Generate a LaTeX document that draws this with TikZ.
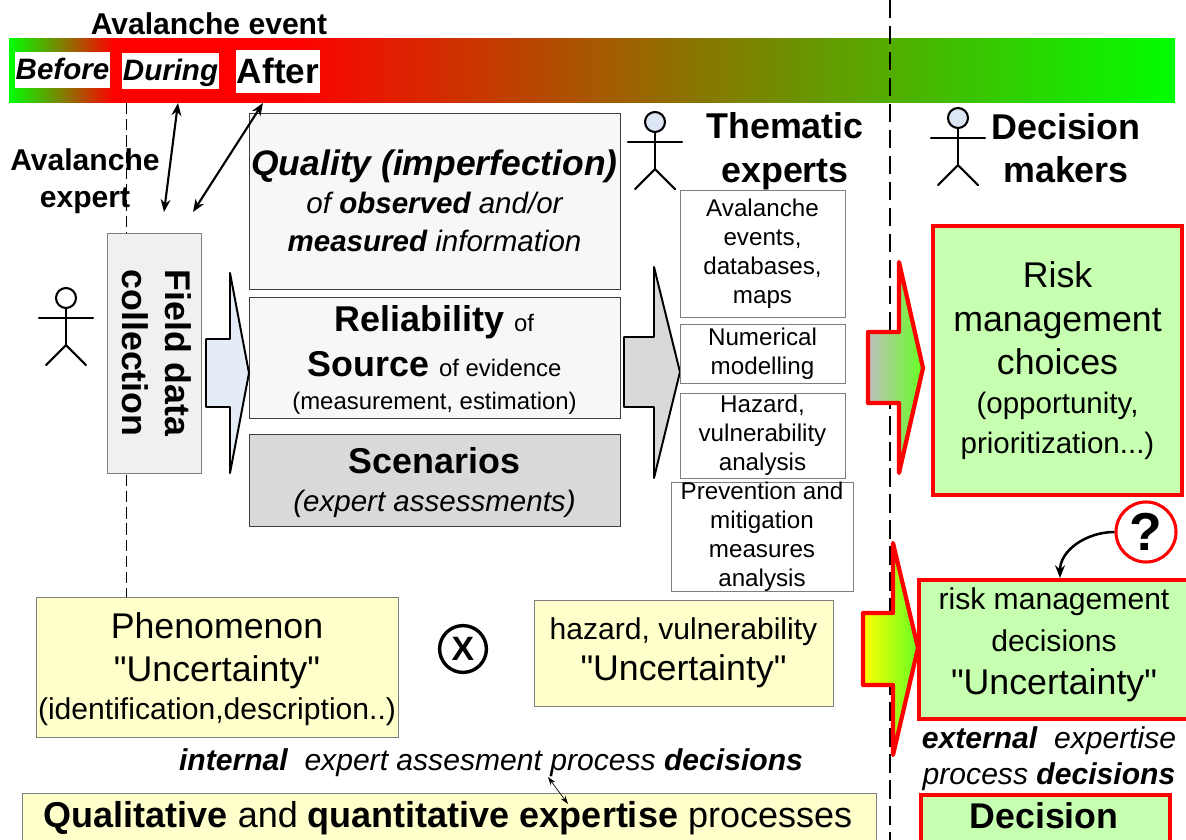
\documentclass[tikz,border=0pt]{standalone}
\usepackage{fontspec}
\setmainfont{Liberation Sans}[Ligatures=TeXOff]
\usetikzlibrary{arrows.meta,calc}
\definecolor{riskgreen}{HTML}{C6FFB0}
\definecolor{notepaper}{HTML}{FFFFCC}
\definecolor{quality}{HTML}{F7F7F7}
\definecolor{scenario}{HTML}{D9D9D9}
\definecolor{fieldgray}{HTML}{F0F0F0}
\definecolor{edgegray}{HTML}{7F7F7F}
\definecolor{headblue}{HTML}{DDE6F5}
\definecolor{paleblue}{HTML}{E4ECF7}
\definecolor{tipgreen}{HTML}{66FF22}
\pgfdeclarehorizontalshading{barshade}{100bp}{color(0bp)=(green); color(25bp)=(green);
  color(29.5bp)=(red); color(37bp)=(red); color(75bp)=(green); color(100bp)=(green)}
\newcommand{\pts}[2]{\fontsize{#1}{#2}\selectfont}
\newcommand{\lgtxt}{\pts{25.4}{28}}

\begin{document}
\begin{tikzpicture}[x=.025cm,y=-.025cm,
        sized/.style 2 args={minimum width=#1*.025cm,minimum height=#2*.025cm,inner sep=0pt,outer sep=0pt},
        box/.style={draw=edgegray,line width=.7pt,align=center},
        riskbox/.style={draw=red,fill=riskgreen,line width=2.8pt,align=center},
        label/.style={align=center,inner sep=0pt},
        whenbox/.style={fill=white,inner sep=0pt,text height=19pt,text depth=5pt},
        bigarrow/.style={line width=1.4pt,line join=round},
        redarrow/.style={draw=red,line width=3pt,line join=round},
        both/.style={{Stealth[length=9pt,width=7pt]}-{Stealth[length=9pt,width=7pt]},line width=1.5pt}]

        \useasboundingbox (0,0) rectangle (1186,840);

        %% time bar
        \draw[line width=.6pt,dash pattern=on 8pt off 3.5pt] (126,103) -- (126,597);
        \shade[shading=barshade] (9,39) rectangle (1175,103);
        \draw[line width=1.5pt,dash pattern=on 13pt off 5.5pt] (890,0) -- (890,840);
        \node[label,font=\pts{21.4}{25}\bfseries] (event_lbl) at (209,24) {Avalanche event};
        \node[whenbox,sized={95}{36},font=\pts{21}{25}\bfseries\itshape] (before_box) at (62.5,70) {Before};
        \node[whenbox,sized={97}{36},font=\pts{21}{25}\bfseries\itshape] (during_box) at (170.5,71) {During};
        \node[whenbox,text height=22pt,sized={84}{43},font=\pts{25}{30}\bfseries] (after_box) at (278,71.5) {After};
        \node[label,font=\pts{21.4}{26}\bfseries] (expert_lbl) at (85,181) {Avalanche\\expert};

        %% field data and evidence boxes
        \node[box,fill=fieldgray,sized={240}{94},rotate=-90,font=\pts{25.4}{30.5}\bfseries] (field_box) at (154,353) {Field data\\collection\rule[-4pt]{0pt}{0pt}};
        \node[box,draw=black!75,fill=quality,sized={371}{176},font=\pts{21}{27}\itshape] (quality_box) at (434.5,201)
          {\pts{25.2}{27}\bfseries Quality (imperfection)\\of \textbf{observed} and/or\\\textbf{measured} information};
        \node[box,draw=black!75,fill=quality,sized={371}{121},font=\pts{17}{23}] (reliab_box) at (434.5,357.5)
          {\rule{0pt}{22pt}\pts{25.5}{23}\textbf{Reliability} \pts{17}{23}of\\[8pt]\pts{25.5}{23}\textbf{Source} \pts{17}{23}of evidence\\(measurement, estimation)};
        \node[box,draw=black!75,fill=scenario,sized={371}{92},font=\pts{21}{27}\itshape] (scenario_box) at (434.5,480)
          {\rule{0pt}{22pt}\pts{25.5}{27}\upshape\bfseries Scenarios\\(expert assessments)};

        %% block arrows
        \draw[bigarrow,fill=paleblue] (206,339) -- (230,339) -- (230,273) -- (249,373) -- (230,473) -- (230,407) -- (206,407) -- cycle;
        \draw[bigarrow,fill=scenario] (624,337) -- (654,337) -- (654,267) -- (680,372) -- (654,478) -- (654,407) -- (624,407) -- cycle;
        \shade[redarrow,left color=black!25,right color=tipgreen] (868,332) -- (899,332) -- (899,262) -- (923,368) -- (899,473) -- (899,403) -- (868,403) -- cycle;
        \shade[redarrow,left color=yellow,right color=tipgreen] (863,613) -- (893,613) -- (893,543) -- (918,648) -- (893,755) -- (893,685) -- (863,685) -- cycle;

        %% people
        \foreach \hx/\hy/\hc/\who in {66/298/white/field,655/122/headblue/thematic,958/118/headblue/decider} {
          \node[circle,draw,fill=\hc,line width=1.5pt,minimum size=.5cm,inner sep=0pt,name=head_\who] at (\hx,\hy) {};
          \draw[line width=1.5pt] (head_\who.south) -- ++(0,36) coordinate (hip_\who);
          \draw[line width=1.5pt,line cap=round] ($(head_\who.south)+(-27,9)$) -- ++(54,0);
          \draw[line width=1.5pt,line cap=round] ($(hip_\who)+(-20,20)$) -- (hip_\who) -- ($(hip_\who)+(20,20)$);
        }
        \node[label,font=\pts{25.5}{31}\bfseries] (thematic_lbl) at (785,151) {Thematic\\experts};
        \node[label,font=\pts{25.5}{31}\bfseries] (decider_lbl) at (1066,148) {Decision\\makers};

        %% thematic boxes
        \node[box,fill=white,sized={165}{127},font=\pts{17.2}{20.6}] (events_box) at (762.5,253.5) {Avalanche\\events,\\databases,\\maps};
        \node[box,fill=white,sized={165}{59},font=\pts{17.2}{20.6}] (model_box) at (762.5,353.5) {Numerical\\modelling};
        \node[box,fill=white,sized={165}{85},font=\pts{17.2}{20.6}] (hazard_box) at (762.5,435.5) {Hazard,\\vulnerability\\analysis};
        \node[box,fill=white,sized={182}{108},font=\pts{17.2}{20.6}] (prevent_box) at (762,537) {Prevention and\\mitigation\\measures\\analysis};

        %% decision side
        \node[riskbox,sized={249}{269},font=\pts{21}{28}] (risk_box) at (1057.5,360.5)
          {\lgtxt Risk\\[3pt]\lgtxt management\\[3pt]\lgtxt choices\\(opportunity,\\prioritization...)};
        \node[riskbox,sized={270}{139},font=\pts{21.4}{30}] (uncert_box) at (1054,649.5)
          {risk management\\decisions\\\lgtxt"Uncertainty"\rule[-12pt]{0pt}{0pt}};
        \node[circle,draw=red,fill=white,line width=2.2pt,minimum size=1.5cm,inner sep=0pt,font=\pts{38}{38}\bfseries] (query) at (1146,532) {?};
        \coordinate (uncert_top) at (1060,578);
        \draw[-{Stealth[length=9pt,width=7pt]},line width=1.8pt] (query.west) to[out=180,in=90] (uncert_top);
        \node[label,font=\pts{21.4}{25.5}\itshape] (external_lbl) at (1049,759) {\textbf{external}\ \ expertise\\process \textbf{decisions}};
        \node[riskbox,sized={249}{60}] (decision_box) at (1045.5,825) {};
        \node[label,font=\pts{25.4}{30}\bfseries] (decision_lbl) at (1044,816) {Decision};

        %% uncertainty row
        \node[box,fill=notepaper,sized={362}{140},font=\pts{21.4}{27}] (phenom_box) at (217,667)
          {\rule{0pt}{21pt}\lgtxt Phenomenon\\[3.5pt]\lgtxt"Uncertainty"\\(identification,description..)};
        \node[circle,draw,line width=2.4pt,minimum size=1.17cm,inner sep=0pt,font=\pts{24}{24}\bfseries] (times_sign) at (463,649) {X};
        \node[box,fill=notepaper,sized={299}{106},font=\pts{21.4}{29}] (hazard_unc) at (683.5,653)
          {hazard, vulnerability\\\lgtxt"Uncertainty"};
        \node[label,font=\pts{21.4}{25}\itshape] (internal_lbl) at (491,763) {\textbf{internal}\ \ expert assesment process \textbf{decisions}};
        \node[box,fill=notepaper,sized={854}{60}] (quali_box) at (449,823) {};
        \node[label,font=\pts{25.6}{30}] (quali_lbl) at (448,818) {\textbf{Qualitative} and \textbf{quantitative expertise} processes};

        \coordinate (bar_during) at (178,103);
        \coordinate (bar_after) at (263,103);
        \coordinate (field_during) at (164,212);
        \coordinate (field_after) at (193,212);
        \coordinate (note_up) at (548,777);
        \coordinate (note_down) at (568,804);
        \draw[both] (bar_during) -- (field_during);
        \draw[both] (bar_after) -- (field_after);
        \draw[{Stealth[length=6pt,width=4pt]}-{Stealth[length=6pt,width=4pt]},line width=.5pt] (note_up) -- (note_down);
      \end{tikzpicture}
\end{document}
